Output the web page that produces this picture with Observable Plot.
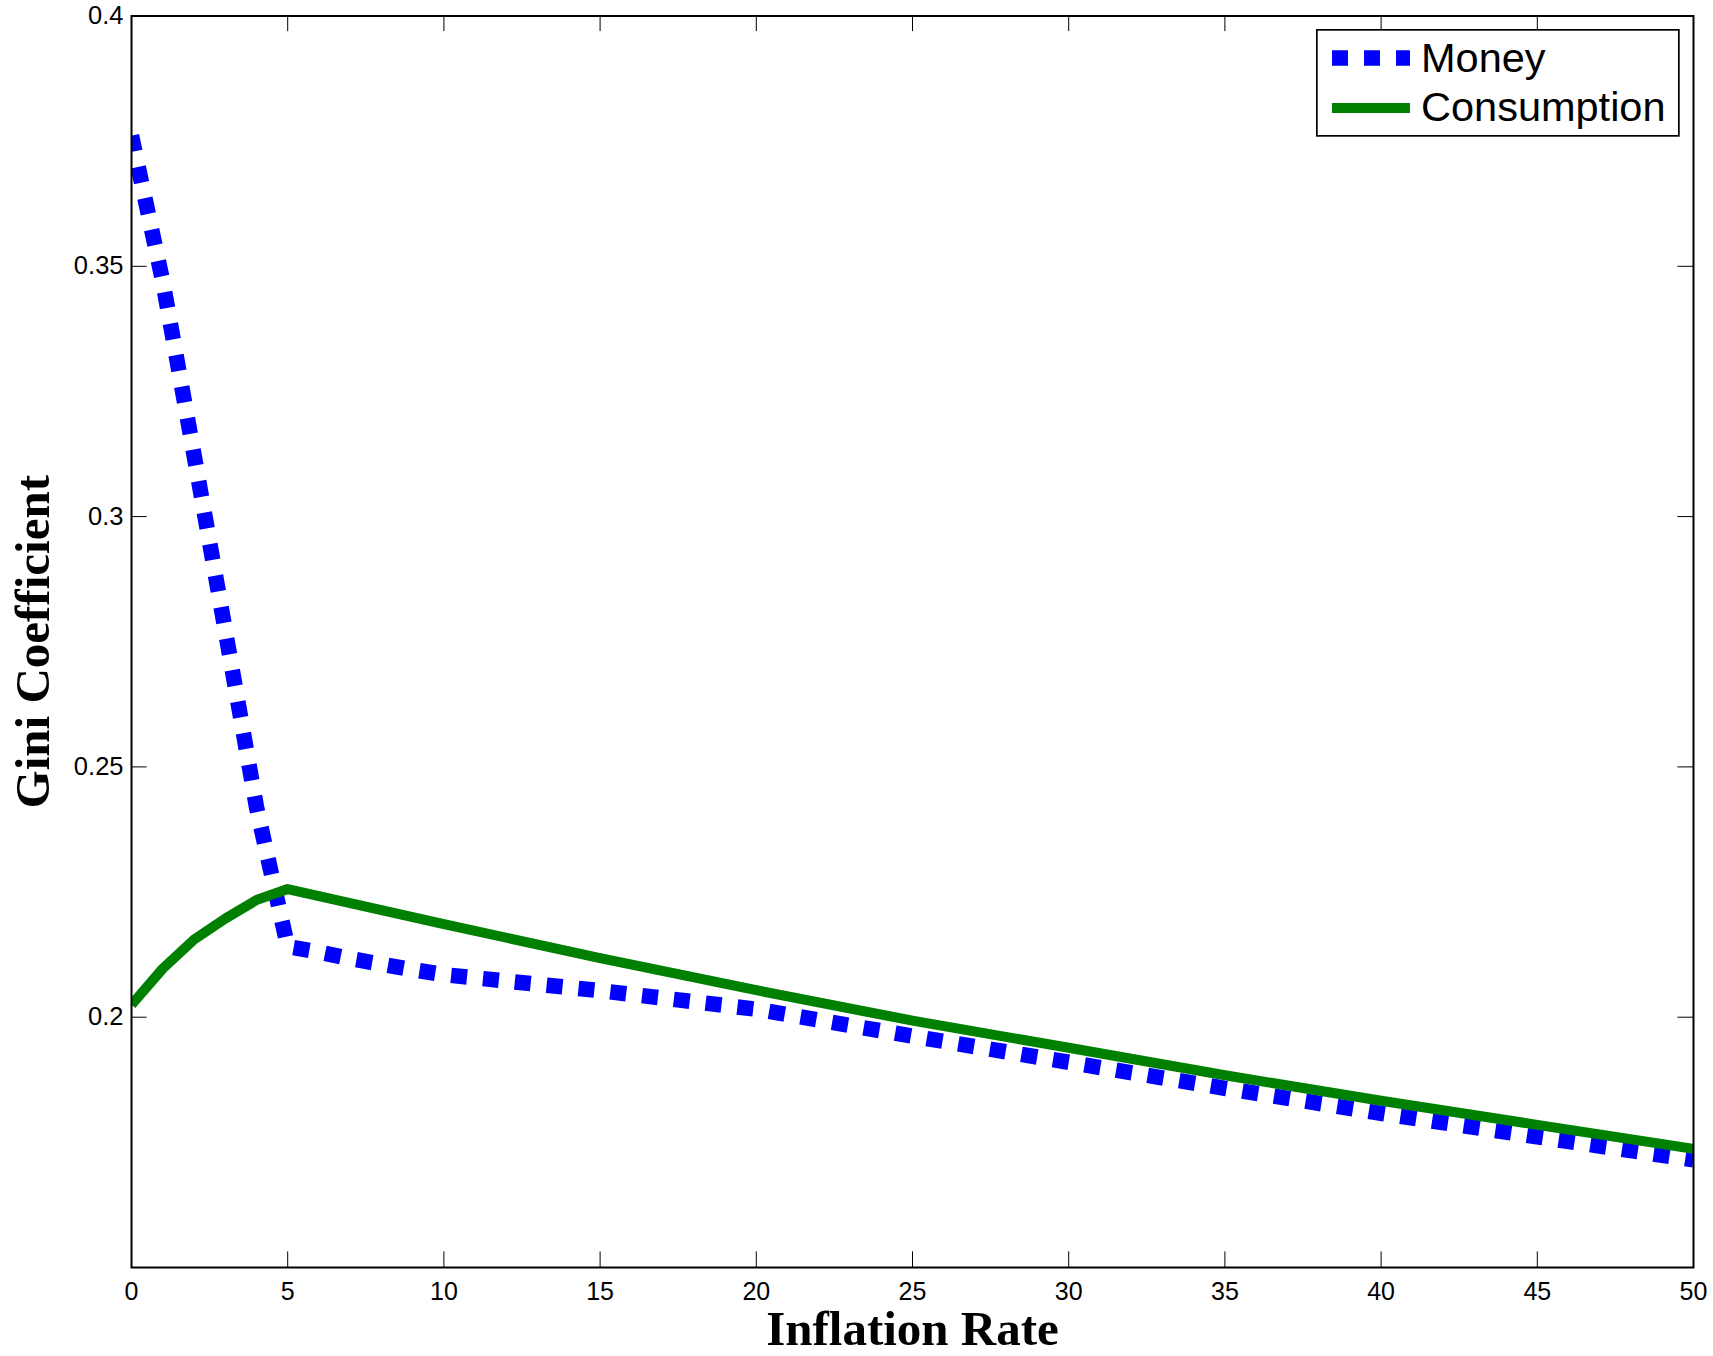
<!DOCTYPE html>
<html>
<head>
<meta charset="utf-8">
<script src="https://cdn.jsdelivr.net/npm/d3@7"></script>
<script src="https://cdn.jsdelivr.net/npm/@observablehq/plot@0.6"></script>
<style>
  body { margin: 0; background: #fff; }
  #wrap { position: relative; width: 1713px; height: 1356px; background: #fff; }
  #legend { position: absolute; left: 1316px; top: 29px; }
</style>
</head>
<body>
<div id="wrap"></div>
<script>
// ---- data ----
const moneyRate = [0, 1, 2, 3, 4, 5, 6, 7, 8, 9, 10, 15, 20, 25, 30, 35, 40, 45, 50];
const moneyGini = [0.3761, 0.3470, 0.3124, 0.2773, 0.2420, 0.2141, 0.2130, 0.2117, 0.2106, 0.2095, 0.2085, 0.2053, 0.2016, 0.1962, 0.1910, 0.1858, 0.1808, 0.1761, 0.1715];
const consumptionRate = [0, 1, 2, 3, 4, 5, 10, 15, 20, 25, 30, 35, 40, 45, 50];
const consumptionGini = [0.2025, 0.2097, 0.2155, 0.2197, 0.2234, 0.2256, 0.2186, 0.2118, 0.2054, 0.1993, 0.1939, 0.1884, 0.1833, 0.1785, 0.1737];
const seriesNames = ["Money", "Consumption"];
const xTicks = [0, 5, 10, 15, 20, 25, 30, 35, 40, 45, 50];
const yTicks = [0.2, 0.25, 0.3, 0.35, 0.4];
const xDomain = [0, 50];
const yDomain = [0.15, 0.4];
const xTitle = "Inflation Rate";
const yTitle = "Gini Coefficient";

// ---- layout / style ----
const W = 1713, H = 1356;
const mL = 131, mR = 20, mT = 15.5, mB = 89;
const innerW = W - mL - mR, innerH = H - mT - mB;
const tickLen = 15.6;
const blue = "#0000ff", green = "#008000";
const sans = '"Liberation Sans", Arial, Helvetica, sans-serif';
const serif = '"Liberation Serif", "Times New Roman", Times, serif';

const moneyData = moneyRate.map((r, i) => ({rate: r, gini: moneyGini[i]}));
const consData = consumptionRate.map((r, i) => ({rate: r, gini: consumptionGini[i]}));

const chart = Plot.plot({
  width: W, height: H,
  marginLeft: mL, marginRight: mR, marginTop: mT, marginBottom: mB,
  style: {fontFamily: sans, fontSize: "25px", background: "white", color: "black"},
  x: {domain: xDomain},
  y: {domain: yDomain},
  marks: [
    Plot.line(moneyData, {x: "rate", y: "gini", stroke: blue, strokeWidth: 15.5,
      strokeDasharray: "16,16", strokeLinecap: "butt", strokeLinejoin: "miter", clip: true}),
    Plot.line(consData, {x: "rate", y: "gini", stroke: green, strokeWidth: 10,
      strokeLinecap: "butt", strokeLinejoin: "round", clip: true}),
    // inward ticks on all four sides
    Plot.tickX(xTicks, {x: d => d, insetTop: innerH - tickLen, stroke: "black", strokeWidth: 1}),
    Plot.tickX(xTicks, {x: d => d, insetBottom: innerH - tickLen, stroke: "black", strokeWidth: 1}),
    Plot.tickY(yTicks, {y: d => d, insetRight: innerW - tickLen, stroke: "black", strokeWidth: 1}),
    Plot.tickY(yTicks, {y: d => d, insetLeft: innerW - tickLen, stroke: "black", strokeWidth: 1}),
    Plot.axisX(xTicks, {tickSize: 0, tickPadding: 15, label: null, fontSize: 25, tickFormat: d => String(d)}),
    Plot.axisY(yTicks, {tickSize: 0, tickPadding: 8, label: null, fontSize: 25.5, tickFormat: d => String(d)}),
    Plot.frame({stroke: "black", strokeWidth: 2}),
    Plot.text([xTitle], {text: d => d, frameAnchor: "bottom", dy: 62, lineAnchor: "middle", textAnchor: "middle",
      fontFamily: serif, fontWeight: "bold", fontSize: 49, fill: "black"}),
    Plot.text([yTitle], {text: d => d, frameAnchor: "left", dx: -98, rotate: -90, lineAnchor: "middle", textAnchor: "middle",
      fontFamily: serif, fontWeight: "bold", fontSize: 49, fill: "black"})
  ]
});
document.getElementById("wrap").appendChild(chart);

// ---- legend ----
const lg = d3.select("#wrap").append("svg").attr("id", "legend")
  .attr("width", 366).attr("height", 110);
lg.append("rect").attr("x", 0.85).attr("y", 0.85).attr("width", 362).attr("height", 106)
  .attr("fill", "white").attr("stroke", "black").attr("stroke-width", 1.7);
const swatch = [
  {stroke: blue, width: 15.5, dash: "16,16", y: 29, base: 43.4},
  {stroke: green, width: 10, dash: null, y: 79, base: 92.4}
];
seriesNames.forEach((name, i) => {
  const s = swatch[i];
  lg.append("line").attr("x1", 16).attr("x2", 94).attr("y1", s.y).attr("y2", s.y)
    .attr("stroke", s.stroke).attr("stroke-width", s.width)
    .attr("stroke-dasharray", s.dash).attr("stroke-linecap", "butt");
  lg.append("text").attr("x", 105).attr("y", s.base).text(name)
    .attr("font-family", sans).attr("font-size", 41.5).attr("fill", "black");
});
</script>
</body>
</html>
